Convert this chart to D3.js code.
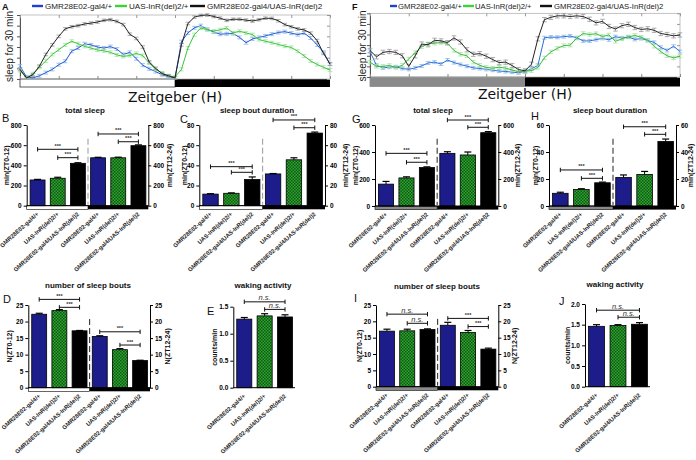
<!DOCTYPE html>
<html><head><meta charset="utf-8">
<script src="https://cdn.jsdelivr.net/npm/d3@7"></script>
<style>
body{margin:0;background:#fff}
svg{display:block}
text{font-family:"Liberation Sans",Arial,sans-serif}
</style>
</head><body>
<svg id="c" width="696" height="460"></svg>
<script>
// ---------------- DATA ----------------
const hours = [0,0.5,1,1.5,2,2.5,3,3.5,4,4.5,5,5.5,6,6.5,7,7.5,8,8.5,9,9.5,10,10.5,11,11.5,12,
  12.5,13,13.5,14,14.5,15,15.5,16,16.5,17,17.5,18,18.5,19,19.5,20,20.5,21,21.5,22,22.5,23,23.5,24];
const zeitTicks = [0,3,6,9,12,15,18,21,24];
const sleepTicks = [0,5,10,15,20,25,30];
const genotypes = ["GMR28E02-gal4/+","UAS-InR(del)2/+","GMR28E02-gal4/UAS-InR(del)2"];

// Panel A (sleep per 30 min)
const aBlue  = [6,1,0.5,1.5,3,4.5,6.7,8.3,13,14.5,16.5,16,15,14.5,15.2,14,11.5,12.5,9.5,6.5,4.8,3.5,2,1,0.5,
  17.5,21.6,24,25,23.3,22,21,21.2,21.3,19.5,17,18.8,19.5,20.2,21,21.8,22.2,21.5,20.8,21.5,19.2,16,12.5,7];
const aGreen = [4,0.5,2.5,5.5,8.5,11.5,13.7,16,17.7,16.5,15.3,14.5,13.6,13.2,12.5,11.3,10.6,11,12,11,7.5,4.5,2.8,1.5,1,
  4.5,14.5,20.8,23.9,23.1,22.4,23.1,23.9,21.6,22.4,21.6,20.8,18.5,17.7,17,16.2,15.4,14.8,13,10.8,8.5,6.8,5.5,4.2];
const aBlack = [4.5,0.5,2,6,11.5,16,20,23.5,24.5,25,25.8,26.2,26.7,27.5,27.8,27,25.5,21,19,15,8,5,2.5,1.5,0.5,
  16,26,29,29.8,30,29.3,28.5,27.5,28,28,27.6,27.2,27.8,28.5,28.4,27.3,25.5,24.5,23.5,23,21.5,18,12,7];
const aSem = [0.7,0.7,0.6];

// Panel F
const fBlue  = [12,5.5,4.3,4.6,4.8,4,3.6,4.3,5.2,6.6,7,6.1,8,6.8,5.9,5.1,4.3,4,3.6,3.2,2.8,2.6,2.3,2,2.7,
  3.8,5.5,18.5,18.8,18.7,19,19.3,18.5,17,17,17.6,18.2,17.5,19,18.4,18.9,17.7,18.1,17.2,16.3,14,12.5,14.5,12];
const fGreen = [7,5,5,5.4,4.5,5.5,8.5,11.5,14.3,15.6,15.9,16.3,15.8,12.5,10.7,10,7,5.5,4.5,4.2,4.6,4.2,3.3,2.5,2.7,
  3,4.5,9,11.8,13.5,14.8,15,18.3,20.5,20,20.4,19.1,19.8,16.8,18,18.8,19.6,18.7,17.3,14.5,12,10,9,9.8];
const fBlack = [12.5,9.5,11.6,12,11.6,10,5,10,15.5,15.2,17.3,17,16.2,18.4,16.5,12.8,10.7,11,9.8,8.2,6.8,7,5.4,3.5,2.9,
  6,18,27,28.1,28.8,28.8,28.5,28.8,28.5,27.2,25.5,26.2,23.8,22.6,24.2,24.8,23.3,22.4,22.7,22,20.5,20,19.4,19.8];
const fSem = [0.7,0.8,1.0];

// Bar panels: ZT0-12 (3 genotypes) then ZT12-24 (3 genotypes)
const totalSleepB = [255,272,420,475,475,595];   const totalSleepBErr = [6,10,6,5,6,8];
const boutDurC    = [11.5,12.3,26,31.5,45.5,72]; const boutDurCErr = [0.4,0.4,2.5,0.4,2,1];
const boutNumD    = [22.2,23.3,17.2,15.5,11.5,8.2]; const boutNumDErr = [0.3,0.3,0.1,0.2,0.3,0.1];
const wakeE       = [1.27,1.33,1.31];             const wakeEErr = [0.03,0.04,0.04];
const totalSleepG = [162,208,285,390,378,543];   const totalSleepGErr = [20,8,5,12,22,8];
const boutDurH    = [9.4,12.3,17.2,21.2,23.4,47.8]; const boutDurHErr = [0.8,0.5,0.5,1.8,2.2,1.8];
const boutNumI    = [17,17.1,17.5,18.8,16.6,11.5]; const boutNumIErr = [0.6,0.5,0.2,0.9,0.6,0.3];
const wakeJ       = [1.46,1.48,1.51];             const wakeJErr = [0.04,0.02,0.04];

const ticksB = [0,200,400,600,800], ticksC = [0,20,40,60,80], ticksD = [0,5,10,15,20,25];
const ticksE = [0,0.5,1,1.5], ticksG = [0,200,400,600], ticksH = [0,20,40,60], ticksJ = [0,0.5,1,1.5,2];

// significance comparisons: [barA, barB, bracket level (data units), label]
const sigB = [[0,2,559,"***"],[1,2,476,"***"],[3,5,711,"***"],[4,5,634,"***"]];
const sigC = [[0,2,38.7,"***"],[1,2,33.1,"***"],[3,5,85,"***"],[4,5,77.3,"***"]];
const sigD = [[0,2,26.7,"***"],[1,2,24.3,"***"],[3,5,16.9,"***"],[4,5,12.9,"***"]];
const sigE = [[0,2,1.59,"n.s."],[1,2,1.45,"n.s."]];
const sigG = [[0,2,390,"***"],[1,2,324,"***"],[3,5,637,"***"],[4,5,583,"***"]];
const sigH = [[0,2,26.7,"***"],[1,2,20.5,"***"],[3,5,58.7,"***"],[4,5,53.1,"***"]];
const sigI = [[0,2,22.2,"n.s."],[1,2,19.4,"n.s."],[3,5,20.9,"***"],[4,5,18.4,"***"]];
const sigJ = [[0,2,1.85,"n.s."],[1,2,1.68,"n.s."]];

// ---------------- DRAWING ----------------
const svg = d3.select("#c");
const defs = svg.append("defs");
const pat = defs.append("pattern").attr("id","chk").attr("patternUnits","userSpaceOnUse")
  .attr("width",3).attr("height",3);
pat.append("rect").attr("width",3).attr("height",3).attr("fill","#2fa22f");
pat.append("rect").attr("width",1.5).attr("height",1.5).attr("fill","#0f5a12");
pat.append("rect").attr("x",1.5).attr("y",1.5).attr("width",1.5).attr("height",1.5).attr("fill","#0f5a12");

const BAR_FILL = ["#1c1c8a","url(#chk)","#000000"];

function text(x,y,s,o={}){
  const t = svg.append("text").attr("x",x).attr("y",y).text(s)
    .attr("font-size",o.size||8).attr("fill",o.fill||"#111")
    .attr("text-anchor",o.anchor||"start");
  if(o.weight) t.attr("font-weight",o.weight);
  if(o.style) t.attr("font-style",o.style);
  if(o.family) t.style("font-family",o.family);
  if(o.rotate!==undefined) t.attr("transform",`rotate(${o.rotate},${x},${y})`);
  if(o.ls) t.attr("letter-spacing",o.ls);
  return t;
}

function timeSeries(c){
  const x = d3.scaleLinear().domain([0,24]).range([c.x0,c.x1]);
  const y = d3.scaleLinear().domain([0,30]).range([c.yb,c.yt]);
  const g = svg.append("g");
  g.append("rect").attr("x",x(0)).attr("y",c.yb).attr("width",x(12)-x(0)).attr("height",c.sh)
    .attr("fill",c.lightFill).attr("stroke",c.lightStroke).attr("stroke-width",0.8);
  g.append("rect").attr("x",x(12)).attr("y",c.yb).attr("width",x(24)-x(12)).attr("height",c.sh).attr("fill","#000");
  g.append("rect").attr("x",x(0)).attr("y",y(30)).attr("width",x(24)-x(0)).attr("height",y(0)-y(30))
    .attr("fill","none").attr("stroke","#aaa").attr("stroke-width",0.7);
  g.append("g").attr("transform",`translate(${x(0)},0)`).attr("color","#555")
    .call(d3.axisLeft(y).tickValues(sleepTicks).tickSize(3).tickSizeOuter(0).tickFormat(""));
  g.append("g").attr("transform",`translate(${x(24)},0)`).attr("color","#999")
    .call(d3.axisRight(y).tickValues(sleepTicks).tickSize(-3).tickSizeOuter(0).tickFormat(""))
    .call(a=>a.select(".domain").remove());
  g.append("g").attr("transform",`translate(0,${y(0)})`).attr("color","#888")
    .call(d3.axisBottom(x).tickValues(zeitTicks).tickSize(-3).tickSizeOuter(0).tickFormat(""))
    .call(a=>a.select(".domain").remove());
  g.append("g").attr("transform",`translate(0,${y(30)})`).attr("color","#999")
    .call(d3.axisTop(x).tickValues(zeitTicks).tickSize(-3).tickSizeOuter(0).tickFormat(""))
    .call(a=>a.select(".domain").remove());
  c.series.forEach(s=>{
    const eg = g.append("g").attr("stroke",s.cap).attr("stroke-width",0.8);
    hours.forEach((h,i)=>{
      const v = s.values[i], xx = x(h);
      eg.append("line").attr("x1",xx).attr("x2",xx).attr("y1",y(Math.max(0,v-s.sem))).attr("y2",y(v+s.sem));
      eg.append("line").attr("x1",xx-2.3).attr("x2",xx+2.3).attr("y1",y(v+s.sem)).attr("y2",y(v+s.sem));
      eg.append("line").attr("x1",xx-2.3).attr("x2",xx+2.3).attr("y1",y(Math.max(0,v-s.sem))).attr("y2",y(Math.max(0,v-s.sem)));
    });
    g.append("path").datum(s.values)
      .attr("d",d3.line().x((d,i)=>x(hours[i])).y(d=>y(d)))
      .attr("fill","none").attr("stroke",s.color).attr("stroke-width",1);
  });
  // legend
  c.legend.forEach((L,i)=>{
    svg.append("line").attr("x1",L[0]).attr("x2",L[1]).attr("y1",c.ly).attr("y2",c.ly)
      .attr("stroke",c.series[i].lcolor).attr("stroke-width",2.4);
    text(L[2],c.ly+3,genotypes[i],{size:c.lsize,fill:"#222"});
  });
  text(c.ylx,c.yly,"sleep for 30 min",{size:10,anchor:"middle",rotate:-90,fill:"#222"});
  text((c.x0+c.x1)/2,c.zy,"Zeitgeber (H)",{size:14,anchor:"middle",fill:"#111",family:"'DejaVu Sans',sans-serif"});
}

function barPanel(c){
  const n = c.values.length;
  const x = d3.scaleBand().domain(d3.range(n)).range([c.xl+1,c.xr]).paddingInner(0.26).paddingOuter(0.12);
  const y = d3.scaleLinear().domain([0,c.max]).range([c.y0,c.yt]);
  const bw = x.bandwidth();
  const g = svg.append("g");
  const cx = i => x(i)+bw/2;
  if(n===6){
    const xm = (x(2)+bw+x(3))/2;
    g.append("rect").attr("x",c.xl).attr("y",c.y0).attr("width",xm-c.xl).attr("height",3.6)
      .attr("fill",c.lightFill).attr("stroke","#000").attr("stroke-width",0.6);
    g.append("rect").attr("x",xm).attr("y",c.y0).attr("width",c.xr-xm).attr("height",3.6).attr("fill","#000");
    g.append("line").attr("x1",xm).attr("x2",xm).attr("y1",y(c.max*0.83)).attr("y2",c.y0-1)
      .attr("stroke",c.dashColor).attr("stroke-width",1).attr("stroke-dasharray","6,3");
  }
  // bars
  c.values.forEach((v,i)=>{
    g.append("rect").attr("x",x(i)).attr("y",y(v)).attr("width",bw).attr("height",y(0)-y(v))
      .attr("fill",BAR_FILL[i%3]).attr("stroke","#000").attr("stroke-width",0.8);
    const e = c.errs[i];
    g.append("line").attr("x1",cx(i)).attr("x2",cx(i)).attr("y1",y(v)).attr("y2",y(v+e)).attr("stroke","#000").attr("stroke-width",1);
    g.append("line").attr("x1",cx(i)-3.5).attr("x2",cx(i)+3.5).attr("y1",y(v+e)).attr("y2",y(v+e)).attr("stroke","#000").attr("stroke-width",1.2);
  });
  // axes
  const fmt = c.fmt || d3.format("d");
  const la = g.append("g").attr("transform",`translate(${c.xl},0)`)
    .call(d3.axisLeft(y).tickValues(c.ticks).tickSize(3).tickSizeOuter(0).tickPadding(2).tickFormat(fmt));
  la.selectAll("text").attr("font-size",6.5).attr("font-weight","bold").style("font-family","'Liberation Sans',Arial,sans-serif");
  if(n===6){
    const ra = g.append("g").attr("transform",`translate(${c.xr},0)`)
      .call(d3.axisRight(y).tickValues(c.ticks).tickSize(3).tickSizeOuter(0).tickPadding(2).tickFormat(fmt));
    ra.selectAll("text").attr("font-size",6.5).attr("font-weight","bold").style("font-family","'Liberation Sans',Arial,sans-serif");
  }
  g.append("line").attr("x1",c.xl).attr("x2",c.xr).attr("y1",c.y0).attr("y2",c.y0).attr("stroke","#000").attr("stroke-width",1);
  // brackets
  c.sig.forEach(s=>{
    const x1 = cx(s[0]), x2 = cx(s[1]), yy = y(s[2]);
    g.append("line").attr("x1",x1).attr("x2",x2).attr("y1",yy).attr("y2",yy).attr("stroke","#111").attr("stroke-width",1);
    [x1,x2].forEach(xx=>g.append("line").attr("x1",xx).attr("x2",xx).attr("y1",yy-2.2).attr("y2",yy+2.2).attr("stroke","#111").attr("stroke-width",1));
    if(s[3]==="***") text((x1+x2)/2,yy-1.5,s[3],{size:5.5,anchor:"middle",fill:"#333",weight:"bold"});
    else text((x1+x2)/2,yy-1.5,s[3],{size:7.5,anchor:"middle",fill:"#333",style:"italic"});
  });
  // category labels
  c.values.forEach((v,i)=>{
    const ax = cx(i)+1.5, ay = c.y0+9;
    text(ax,ay,genotypes[i%3],{size:5.9,anchor:"end",rotate:-42,fill:"#222",weight:"bold"});
  });
  // titles
  text(c.tx,c.ty,c.title,{size:8,anchor:"middle",weight:"bold",fill:"#111"});
  text(c.lx,c.ly,c.letter,{size:11,fill:"#111"});
  const ym = (c.y0+c.yt)/2;
  text(c.ltx,ym,c.ltitle,{size:7,anchor:"middle",rotate:-90,weight:"bold",fill:"#111"});
  if(c.rtitle) text(c.rtx,ym,c.rtitle,{size:7,anchor:"middle",rotate:-90,weight:"bold",fill:"#111"});
}

// ---- time series panels ----
timeSeries({x0:20,x1:330,yb:79,yt:15,sh:8,lightFill:"#fff",lightStroke:"#333",
  series:[
    {values:aBlue,sem:aSem[0],color:"#2458cc",cap:"#86b6ee",lcolor:"#1f3fd6"},
    {values:aGreen,sem:aSem[1],color:"#3cc43c",cap:"#9fe49f",lcolor:"#3ad43a"},
    {values:aBlack,sem:aSem[2],color:"#222",cap:"#999",lcolor:"#111"}],
  legend:[[32,43,45],[115,127,129],[190,205,207]],ly:6,lsize:8.1,
  ylx:13,yly:46.5,zy:102});
timeSeries({x0:370,x1:680,yb:77,yt:13.3,sh:9.5,lightFill:"#8a8a8a",lightStroke:"#8a8a8a",
  series:[
    {values:fBlue,sem:fSem[0],color:"#2a70d0",cap:"#8ab8ee",lcolor:"#1f3fd6"},
    {values:fGreen,sem:fSem[1],color:"#3cb83c",cap:"#9fe49f",lcolor:"#3ad43a"},
    {values:fBlack,sem:fSem[2],color:"#222",cap:"#999",lcolor:"#111"}],
  legend:[[390,397,398],[463,474,475],[540,552,554]],ly:6,lsize:7.7,
  ylx:366,yly:46,zy:99});
text(2,10,"A",{size:9,weight:"bold"});
text(352,10,"F",{size:9,weight:"bold"});

// ---- bar panels ----
barPanel({values:totalSleepB,errs:totalSleepBErr,max:800,ticks:ticksB,xl:26.7,xr:148.3,y0:205.7,yt:125,
  lightFill:"#fff",dashColor:"#999",sig:sigB,title:"total sleep",tx:85,ty:113,letter:"B",lx:2,ly:122,
  ltitle:"min(ZT0-12)",ltx:9,rtitle:"min(ZT12-24)",rtx:172});
barPanel({values:boutDurC,errs:boutDurCErr,max:80,ticks:ticksC,xl:199.3,xr:325,y0:205.7,yt:125,
  lightFill:"#fff",dashColor:"#999",sig:sigC,title:"sleep bout duration",tx:257,ty:113,letter:"C",lx:180,ly:123,
  ltitle:"min(ZT0-12)",ltx:187,rtitle:"min(ZT12-24)",rtx:348});
barPanel({values:boutNumD,errs:boutNumDErr,max:25,ticks:ticksD,xl:28.3,xr:150,y0:387.7,yt:305,
  lightFill:"#fff",dashColor:"#222",sig:sigD,title:"number of sleep bouts",tx:88,ty:288,letter:"D",lx:3,ly:303,
  ltitle:"N(ZT0-12)",ltx:12,rtitle:"N(ZT12-24)",rtx:170});
barPanel({values:wakeE,errs:wakeEErr,max:1.5,ticks:ticksE,xl:233.3,xr:295,y0:387.7,yt:306.7,
  fmt:d3.format(".1f"),sig:sigE,title:"waking activity",tx:263,ty:288,letter:"E",lx:207,ly:315,
  ltitle:"counts/min",ltx:217});
barPanel({values:totalSleepG,errs:totalSleepGErr,max:600,ticks:ticksG,xl:375,xr:498.3,y0:206,yt:125,
  lightFill:"#8a8a8a",dashColor:"#222",sig:sigG,title:"total sleep",tx:433,ty:113,letter:"G",lx:352,ly:123,
  ltitle:"min(ZT0-12)",ltx:358,rtitle:"min(ZT12-24)",rtx:520});
barPanel({values:boutDurH,errs:boutDurHErr,max:60,ticks:ticksH,xl:549,xr:676,y0:206,yt:125,
  lightFill:"#8a8a8a",dashColor:"#222",sig:sigH,title:"sleep bout duration",tx:610,ty:113,letter:"H",lx:531,ly:120,
  ltitle:"min(ZT0-12)",ltx:538,rtitle:"min(ZT12-24)",rtx:693});
barPanel({values:boutNumI,errs:boutNumIErr,max:25,ticks:ticksD,xl:376,xr:498.3,y0:386.7,yt:305,
  lightFill:"#8a8a8a",dashColor:"#222",sig:sigI,title:"number of sleep bouts",tx:437,ty:289,letter:"I",lx:354,ly:302,
  ltitle:"N(ZT0-12)",ltx:362,rtitle:"N(ZT12-24)",rtx:517});
barPanel({values:wakeJ,errs:wakeJErr,max:2,ticks:ticksJ,xl:585,xr:650,y0:386.7,yt:304,
  fmt:d3.format(".1f"),sig:sigJ,title:"waking activity",tx:615,ty:287,letter:"J",lx:559,ly:305,
  ltitle:"counts/min",ltx:570});
</script>
</body></html>
